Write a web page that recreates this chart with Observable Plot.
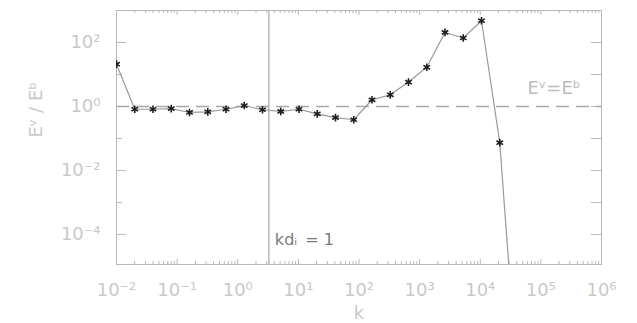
<!DOCTYPE html>
<html>
<head>
<meta charset="utf-8">
<script src="https://cdn.jsdelivr.net/npm/d3@7"></script>
<script src="https://cdn.jsdelivr.net/npm/@observablehq/plot@0.6"></script>
<style>
  body { margin: 0; background: #fff; }
  #chart svg { display: block; }
</style>
</head>
<body>
<div id="chart"></div>
<script>
// Wavenumbers of the spectrum bins
const kValues = [0.01, 0.02, 0.04, 0.08, 0.16, 0.32, 0.64, 1.28, 2.56, 5.12,
  10.24, 20.48, 40.96, 81.92, 163.84, 327.68, 655.36, 1310.72, 2621.44,
  5242.88, 10485.76, 20971.52, 41943.04];
// Ratio of kinetic to magnetic energy in each bin
const ratioValues = [21, 0.82, 0.82, 0.86, 0.65, 0.68, 0.82, 1.07, 0.79, 0.70,
  0.82, 0.59, 0.45, 0.385, 1.62, 2.31, 5.8, 16.8, 206, 138, 478, 0.074, 1.4e-9];
// Wavenumber where k d_i = 1
const kIon = 3.26;

// Axis ticks and their labels
const xMajor = [1e-2, 1e-1, 1e0, 1e1, 1e2, 1e3, 1e4, 1e5, 1e6];
const xTickLabels = ["10⁻²", "10⁻¹", "10⁰", "10¹", "10²", "10³", "10⁴", "10⁵", "10⁶"];
const xMinor = [];
for (let e = -2; e < 6; e++) for (let m = 2; m <= 9; m++) xMinor.push(m * Math.pow(10, e));
const yMajor = [1e2, 1e0, 1e-2, 1e-4];
const yTickLabels = ["10²", "10⁰", "10⁻²", "10⁻⁴"];
const yMinor = [1e1, 1e-1, 1e-3];
const xTitle = "k";
const yTitle = "Eᵛ / Eᵇ";

const data = kValues.map((k, i) => ({k, r: ratioValues[i]}));

const W = 637, H = 323;
const mL = 116, mR = 36, mT = 10, mB = 59;
const pw = W - mL - mR, ph = H - mT - mB;
const frameColor = "#b8b8b8";
const tickLabelColor = "#c9c9c9";

const xFmt = d => xTickLabels[xMajor.indexOf(d)];
const yFmt = d => yTickLabels[yMajor.indexOf(d)];

const chart = Plot.plot({
  width: W, height: H,
  marginLeft: mL, marginRight: mR, marginTop: mT, marginBottom: mB,
  style: {fontFamily: "'DejaVu Sans', sans-serif", fontSize: "18px", background: "#fff"},
  x: {type: "log", domain: [1e-2, 1e6]},
  y: {type: "log", domain: [1.15e-5, 1e3]},
  marks: [
    // tick labels
    Plot.axisX({ticks: xMajor, tickFormat: xFmt, tickSize: 0, tickPadding: 19,
      fill: tickLabelColor, fontSize: 18, label: null}),
    Plot.axisY({ticks: yMajor, tickFormat: yFmt, tickSize: 0, tickPadding: 16,
      fill: tickLabelColor, fontSize: 18, label: null}),
    // axis titles
    Plot.text([xTitle], {frameAnchor: "bottom", dy: 49, lineAnchor: "middle",
      fill: tickLabelColor, fontSize: 18}),
    Plot.text([yTitle], {frameAnchor: "left", dx: -80, rotate: -90,
      fill: tickLabelColor, fontSize: 18}),
    // inward tick marks on all four sides
    Plot.ruleX(xMajor, {x: d => d, insetTop: ph - 5, stroke: frameColor}),
    Plot.ruleX(xMajor, {x: d => d, insetBottom: ph - 5, stroke: frameColor}),
    Plot.ruleX(xMinor, {x: d => d, insetTop: ph - 3, stroke: frameColor}),
    Plot.ruleX(xMinor, {x: d => d, insetBottom: ph - 3, stroke: frameColor}),
    Plot.ruleY(yMajor, {y: d => d, insetRight: pw - 10, stroke: frameColor}),
    Plot.ruleY(yMinor, {y: d => d, insetRight: pw - 6, stroke: frameColor}),
    Plot.ruleY(yMajor, {y: d => d, insetLeft: pw - 10, stroke: frameColor}),
    Plot.ruleY(yMinor, {y: d => d, insetLeft: pw - 10, stroke: frameColor}),
    Plot.frame({stroke: frameColor}),
    // equipartition reference and ion-scale marker
    Plot.ruleY([1], {stroke: "#a8a8a8", strokeWidth: 1.4, strokeDasharray: "13,7"}),
    Plot.ruleX([kIon], {stroke: "#a8a8a8", strokeWidth: 1.2}),
    Plot.text(["Eᵛ=Eᵇ"], {y: [1], frameAnchor: "right", textAnchor: "end",
      dx: -21, dy: -18, fill: "#bdbdbd", fontSize: 18}),
    Plot.text(["kdᵢ\u2002= 1"], {x: [kIon], frameAnchor: "bottom", textAnchor: "start",
      dx: 6, dy: -20, fill: "#7a7a7a", fontSize: 16}),
    // spectrum ratio
    Plot.line(data, {x: "k", y: "r", stroke: "#9a9a9a", strokeWidth: 1.2, clip: true}),
    Plot.dot(data, {x: "k", y: "r", symbol: "asterisk", r: 3.6, stroke: "#1e1e1e",
      strokeWidth: 1.6, clip: true})
  ]
});

document.getElementById("chart").appendChild(chart);
</script>
</body>
</html>
